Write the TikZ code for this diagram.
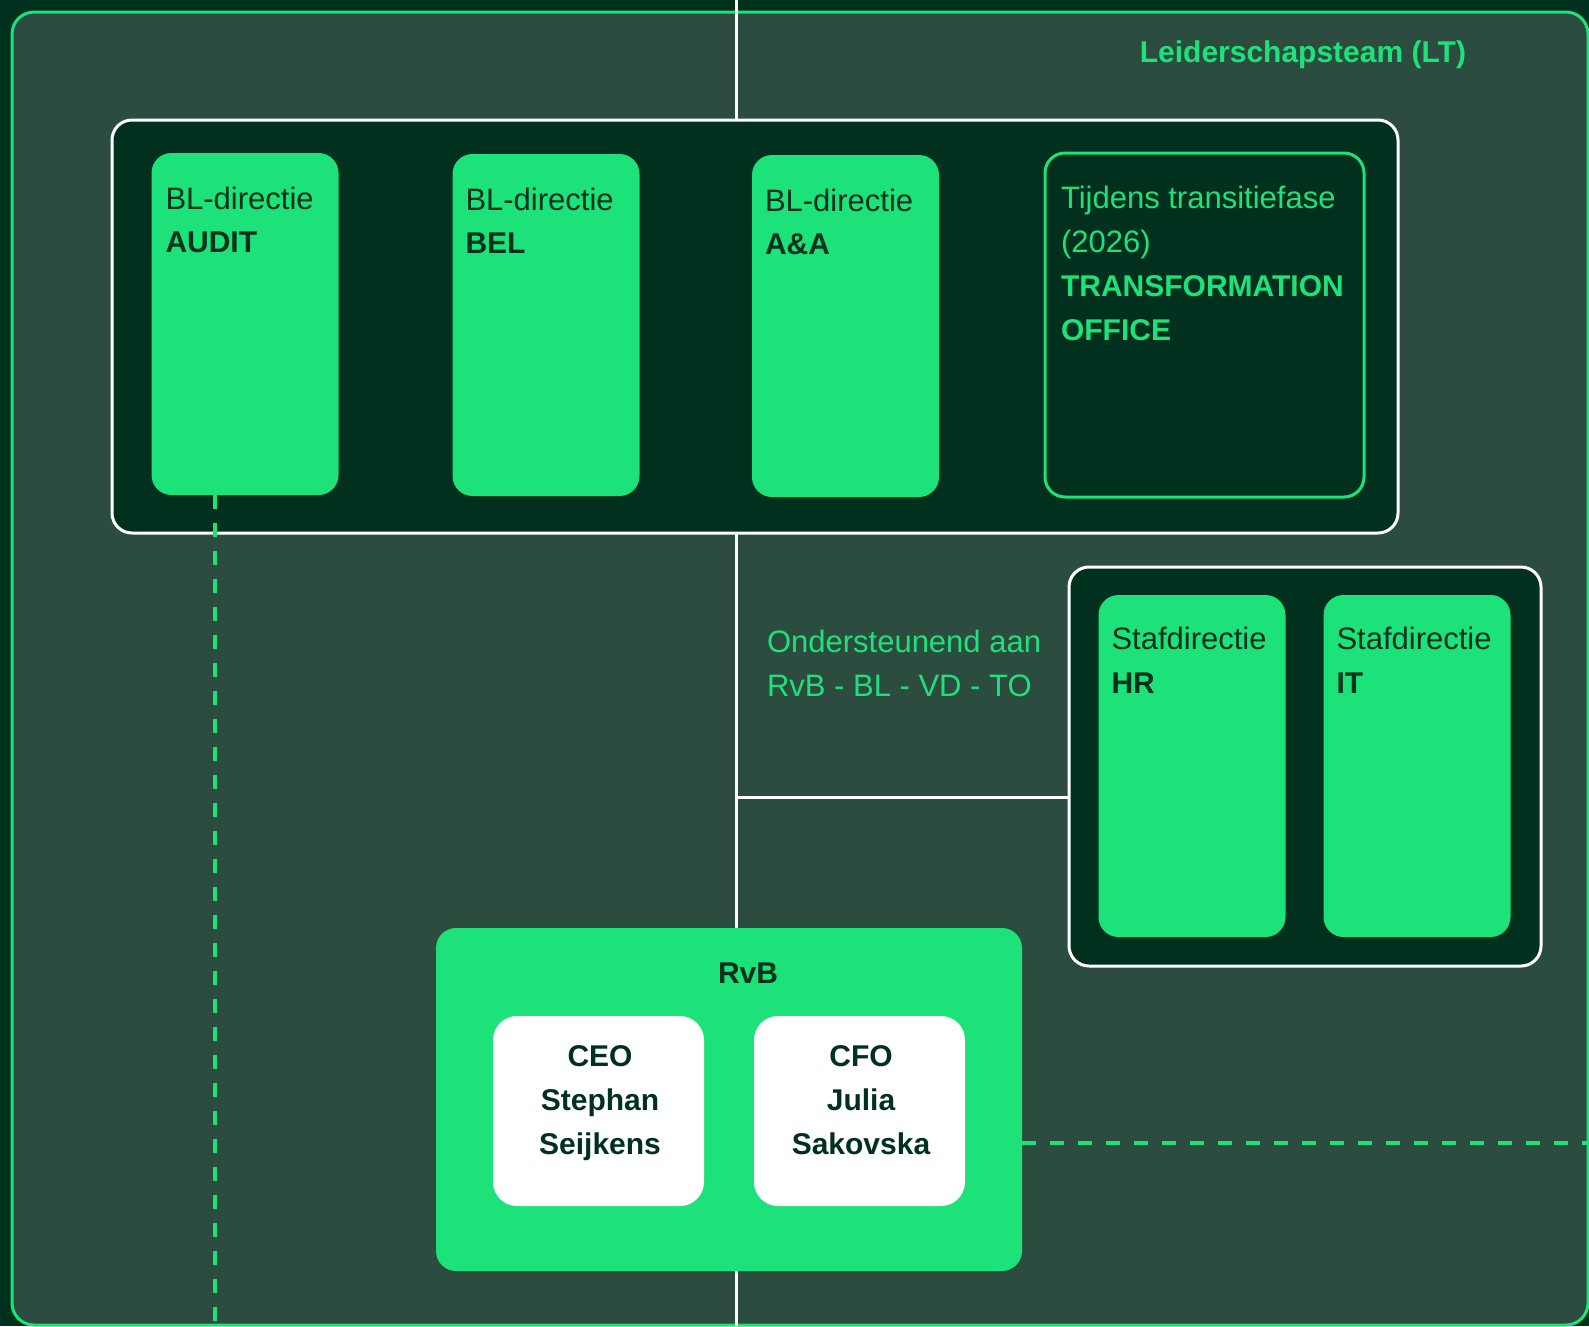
\documentclass[tikz,border=0pt]{standalone}
\usepackage{fontspec}
\setmainfont{Liberation Sans}
\definecolor{bgdark}{HTML}{00311F}
\definecolor{panelc}{HTML}{2D4C40}
\definecolor{brgreen}{HTML}{1DE27A}
\definecolor{txtdark}{HTML}{00311F}
\begin{document}
\begin{tikzpicture}[x=1pt,y=-1pt,
  panel/.style={draw=brgreen, line width=3pt, fill=panelc, rounded corners=22pt, inner sep=0pt, outer sep=0pt},
  groupbox/.style={draw=white, line width=3pt, fill=bgdark, rounded corners=20pt, inner sep=0pt, outer sep=0pt},
  greenbox/.style={fill=brgreen, rounded corners=20pt, inner sep=0pt, outer sep=0pt, minimum width=187pt, minimum height=342pt},
  tobox/.style={draw=brgreen, line width=3pt, fill=bgdark, rounded corners=20pt, inner sep=0pt, outer sep=0pt},
  rvbbox/.style={fill=brgreen, rounded corners=20pt, inner sep=0pt, outer sep=0pt},
  personbox/.style={fill=white, rounded corners=24pt, inner sep=0pt, outer sep=0pt, minimum width=211pt, minimum height=190pt},
  lbl/.style={font=\fontsize{31}{36}\selectfont, inner sep=0pt, outer sep=0pt, anchor=base west, text=txtdark},
  lblb/.style={lbl, font=\fontsize{30}{36}\selectfont\bfseries},
  wline/.style={draw=white, line width=3pt},
  gdash/.style={draw=brgreen, line width=3.5pt, dash pattern=on 14pt off 14pt}
]
\useasboundingbox (0,0) rectangle (1589,1326);
\fill[bgdark] (0,0) rectangle (1589,1326);

% Leadership team panel
\node[panel, minimum width=1576pt, minimum height=1313pt] (lt) at (800,668.5) {};
\node[lblb, anchor=base east, text=brgreen] (lttitle) at (1466,62) {Leiderschapsteam (LT)};

% coordinates for the spine
\coordinate (top) at (736,0);
\coordinate (bottom) at (736,1326);
\coordinate (branch) at (736,797);
\coordinate (dtop) at (215,495);
\coordinate (dbottom) at (215,1326);
\coordinate (dright) at (1589,1143);

% BL group
\node[groupbox, minimum width=1286pt, minimum height=413pt] (bl) at (755,326.5) {};
\node[greenbox] (audit) at (245,324) {};
\node[greenbox] (bel) at (546,325) {};
\node[greenbox] (aa) at (845.5,326) {};
\node[tobox, minimum width=319pt, minimum height=344pt] (to) at (1204.5,325) {};

\node[lbl] (audit1) at ([xshift=14pt,yshift=-56pt]audit.north west) {BL-directie};
\node[lblb] (audit2) at ([yshift=-43pt]audit1.base west) {AUDIT};
\node[lbl] (bel1) at ([xshift=13pt,yshift=-56pt]bel.north west) {BL-directie};
\node[lblb] (bel2) at ([yshift=-43pt]bel1.base west) {BEL};
\node[lbl] (aa1) at ([xshift=13pt,yshift=-56pt]aa.north west) {BL-directie};
\node[lblb] (aa2) at ([yshift=-43pt]aa1.base west) {A\&A};

\node[lbl, text=brgreen] (to1) at ([xshift=16pt,yshift=-55pt]to.north west) {Tijdens transitiefase};
\node[lbl, text=brgreen] (to2) at ([yshift=-44pt]to1.base west) {(2026)};
\node[lblb, text=brgreen] (to3) at ([yshift=-44pt]to2.base west) {TRANSFORMATION};
\node[lblb, text=brgreen] (to4) at ([yshift=-44pt]to3.base west) {OFFICE};

% Staff group
\node[groupbox, minimum width=472pt, minimum height=399pt] (staf) at (1305,766.5) {};
\node[greenbox] (hr) at (1192,766) {};
\node[greenbox] (it) at (1417,766) {};
\node[lbl] (hr1) at ([xshift=13pt,yshift=-54pt]hr.north west) {Stafdirectie};
\node[lblb] (hr2) at ([yshift=-44pt]hr1.base west) {HR};
\node[lbl] (it1) at ([xshift=13pt,yshift=-54pt]it.north west) {Stafdirectie};
\node[lblb] (it2) at ([yshift=-44pt]it1.base west) {IT};

\node[lbl, text=brgreen] (sup1) at (767,652) {Ondersteunend aan};
\node[lbl, text=brgreen] (sup2) at (767,696) {RvB - BL - VD - TO};

% RvB
\node[rvbbox, minimum width=586pt, minimum height=343pt] (rvb) at (729,1099.5) {};
\node[lblb, anchor=base] (rvbt) at (748,983) {RvB};
\node[personbox] (ceo) at (598.5,1111) {};
\node[personbox] (cfo) at (859.5,1111) {};
\node[lblb, anchor=base] (ceo1) at (600,1066) {CEO};
\node[lblb, anchor=base] (ceo2) at (600,1110) {Stephan};
\node[lblb, anchor=base] (ceo3) at (600,1154) {Seijkens};
\node[lblb, anchor=base] (cfo1) at (861,1066) {CFO};
\node[lblb, anchor=base] (cfo2) at (861,1110) {Julia};
\node[lblb, anchor=base] (cfo3) at (861,1154) {Sakovska};

% connectors
\draw[wline] (top) -- (top |- bl.north);
\draw[wline] (top |- bl.south) -- (top |- rvb.north);
\draw[wline] (branch) -- (branch -| staf.west);
\draw[wline] (top |- rvb.south) -- (bottom);
\draw[gdash] (dtop) -- (dbottom);
\draw[gdash] (dright -| rvb.east) -- (dright);
\end{tikzpicture}
\end{document}
